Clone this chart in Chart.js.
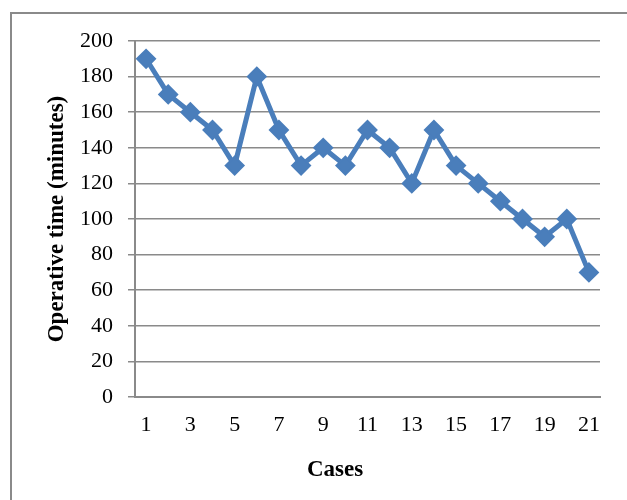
<!DOCTYPE html>
<html>
<head>
<meta charset="utf-8">
<script src="https://cdn.jsdelivr.net/npm/chart.js@4"></script>
<style>
  html, body { margin: 0; padding: 0; background: #fff; }
  #wrap { position: relative; width: 627px; height: 500px; overflow: hidden; }
  #frame { position: absolute; left: 10px; top: 12px; width: 700px; height: 600px; border: 2px solid #8a8a8a; box-sizing: border-box; }
  canvas { position: absolute; left: 0; top: 0; }
</style>
</head>
<body>
<div id="wrap">
  <div id="frame"></div>
  <canvas id="c" width="627" height="500"></canvas>
</div>
<script>
const categories = ["1","2","3","4","5","6","7","8","9","10","11","12","13","14","15","16","17","18","19","20","21"];
const operativeTime = [190,170,160,150,130,180,150,130,140,130,150,140,120,150,130,120,110,100,90,100,70];
const yTitle = "Operative time (minutes)";
const xTitle = "Cases";

const serif = "'Liberation Serif', 'Times New Roman', serif";

new Chart(document.getElementById('c'), {
  type: 'line',
  data: {
    labels: categories,
    datasets: [{
      data: operativeTime,
      borderColor: '#4A7EBB',
      backgroundColor: '#4A7EBB',
      borderWidth: 5,
      pointStyle: 'rectRot',
      pointRadius: 9,
      pointHoverRadius: 9,
      pointBorderWidth: 2,
      tension: 0
    }]
  },
  options: {
    responsive: false,
    animation: false,
    layout: { padding: { left: 43, top: 41, right: 0, bottom: 0 } },
    plugins: {
      legend: { display: false },
      tooltip: { enabled: false },
      title: {
        display: true,
        position: 'bottom',
        text: xTitle,
        color: '#000',
        font: { family: serif, size: 23, weight: 'bold' },
        padding: { top: 0, bottom: 16 }
      }
    },
    scales: {
      x: {
        offset: true,
        grid: { display: false, drawTicks: false },
        border: { display: true, color: '#8a8a8a', width: 2 },
        ticks: {
          autoSkip: false,
          maxRotation: 0,
          padding: 15,
          color: '#000',
          font: { family: serif, size: 22 },
          callback: function(v, i) { return i % 2 === 0 ? categories[i] : ''; }
        },
        afterFit: function(s) { s.height = 59.4; }
      },
      y: {
        min: 0, max: 200,
        grid: { color: '#8a8a8a', lineWidth: 1.5, tickLength: 7, drawTicks: true },
        border: { display: true, color: '#8a8a8a', width: 2 },
        ticks: {
          stepSize: 20,
          padding: 15,
          color: '#000',
          font: { family: serif, size: 22 }
        },
        title: {
          display: true,
          text: yTitle,
          color: '#000',
          font: { family: serif, size: 23, weight: 'bold' },
          padding: { top: 0, bottom: 0 }
        },
        afterFit: function(s) { s.width = 92; }
      },
      yRight: {
        position: 'right',
        display: true,
        grid: { display: false, drawTicks: false },
        border: { display: false },
        ticks: { display: false },
        afterFit: function(s) { s.width = 27; }
      }
    }
  }
});
</script>
</body>
</html>
